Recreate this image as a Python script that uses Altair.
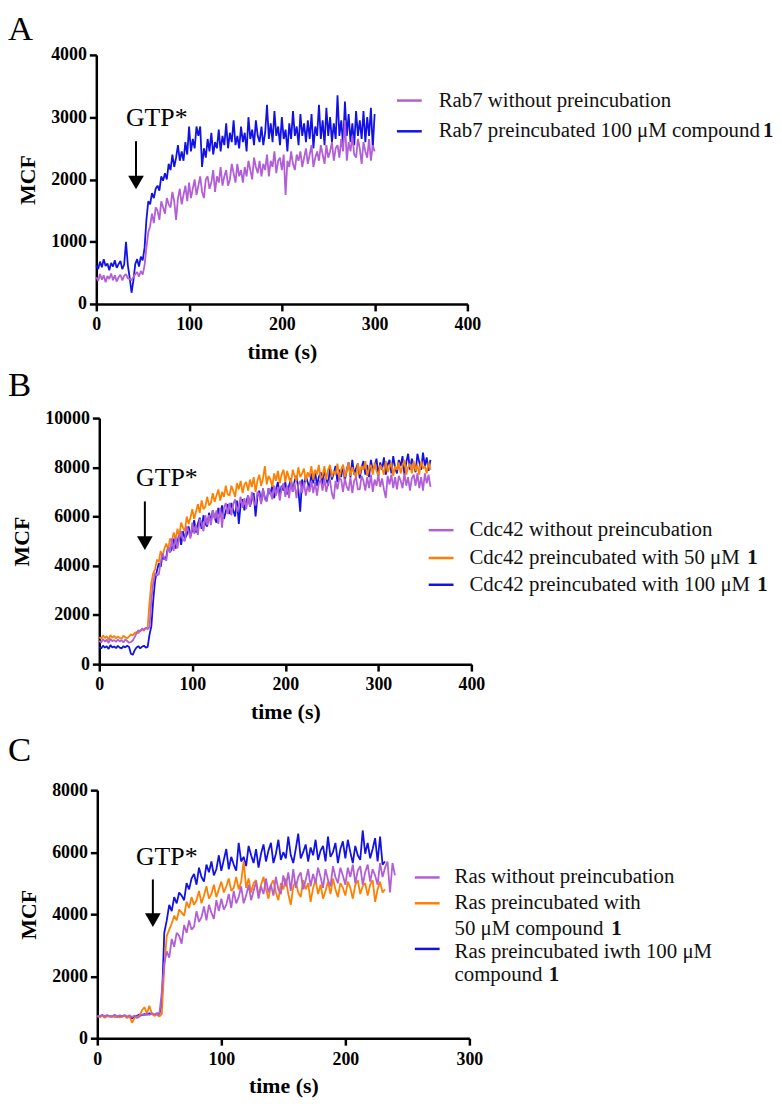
import altair as alt
import pandas as pd

SERIF = "Liberation Serif"
PURPLE = "#b25ed6"
ORANGE = "#ff8000"
BLUE = "#1212e6"

# ---------------- Panel A: Rab7 (every 2 s, 0-300 s) ----------------
A_time = list(range(0, 301, 2))
A_rab7_none = [
    430, 370, 480, 390, 460, 350, 450, 400, 490, 380,
    460, 360, 430, 470, 380, 450, 480, 410, 400, 380,
    430, 480, 510, 440, 530, 470, 620, 900, 1150, 1250,
    1450, 1300, 1550, 1500, 1350, 1650, 1550, 1450, 1700, 1600,
    1550, 1800, 1650, 1350, 1700, 1850, 1600, 1750, 1900, 1650,
    1950, 1700, 1850, 2000, 1750, 1900, 2050, 1800, 1700, 2000,
    2050, 1850, 1950, 2150, 1800, 2050, 1950, 2200, 1900, 2050,
    2150, 1900, 2000, 2250, 2100, 1950, 2250, 2050, 2150, 1950,
    2200, 2050, 2300, 2150, 2000, 2350, 2200, 2100, 2300, 2050,
    2250, 2150, 2400, 2050, 2300, 2200, 2450, 2100, 2300, 2350,
    2150, 2400, 1750, 2300, 2200, 2450, 2250, 2150, 2400, 2300,
    2450, 2200, 2350, 2500, 2250, 2400, 2550, 2200, 2350, 2450,
    2300, 2550, 2400, 2250, 2550, 2350, 2450, 2600, 2300, 2500,
    2550, 2350, 2650, 2450, 2950, 2300, 2600, 2450, 2700, 2400,
    2350, 2650, 2500, 2250, 2600, 2450, 2350, 2650, 2300, 2550,
    2450,
]
A_rab7_100 = [
    620, 560, 680, 590, 720, 610, 650, 540, 660, 600,
    700, 580, 640, 690, 560, 630, 1000, 620, 420, 180,
    380, 640, 720, 600, 760, 700, 900, 1350, 1650, 1600,
    1780, 1700, 1850, 1900, 1820, 2050, 1980, 2100, 2000, 2250,
    2150, 2400, 2200, 2350, 2550, 2300, 2450, 2300, 2600, 2400,
    2850, 2450, 2650, 2500, 2850, 2700, 2850, 2200, 2500, 2350,
    2650, 2450, 2750, 2400, 2600, 2500, 2800, 2450, 2700, 2550,
    2900, 2500, 2750, 2600, 2950, 2550, 2700, 2500, 2850, 2600,
    2750, 2450, 3000, 2650, 2800, 2550, 2950, 2700, 2600, 2850,
    2550, 2750, 3200, 2650, 2900, 2600, 3100, 2700, 2850, 2550,
    3000, 2650, 2800, 2450, 2900, 2650, 3100, 2700, 2850, 2550,
    3050, 2700, 2900, 2600, 2950, 2650, 3050, 2500, 2850, 2700,
    3200, 2650, 2950, 2550, 3150, 2700, 3000, 2600, 2900, 2650,
    3350, 2700, 2950, 2550, 3250, 2700, 3050, 2600, 2900, 2550,
    3100, 2700, 2950, 2650, 3100, 2600, 3000, 2700, 3150, 2500,
    3050,
]

# ---------------- Panel B: Cdc42 (every 2 s, 0-356 s) ----------------
B_time = list(range(0, 357, 2))
B_cdc42_none = [
    950, 880, 1020, 920, 990, 860, 1030, 930, 980, 900,
    1000, 920, 970, 880, 1010, 940, 870, 900, 960, 1100,
    1250, 1380, 1320, 1450, 1400, 1480, 1420, 1500, 2600, 3300,
    3700, 3600, 3650, 4150, 4500, 4300, 4200, 4750, 4550, 5100,
    4600, 5150, 4700, 5200, 5400, 5050, 5000, 5600, 5400, 5100,
    5750, 5300, 5650, 5250, 5900, 5750, 5400, 6050, 5650, 6050,
    5650, 6250, 5900, 6250, 5700, 6350, 5550, 6350, 6550, 6100,
    6550, 6050, 6500, 6700, 6200, 6450, 6800, 6350, 6750, 6300,
    6850, 6400, 7000, 6600, 6450, 7000, 6900, 6500, 7150, 6700,
    6600, 7150, 6950, 6700, 7250, 6850, 7200, 6650, 7150, 7350,
    6800, 7250, 6750, 7400, 7000, 7350, 6750, 7300, 7450, 6950,
    7400, 6850, 7250, 7000, 7450, 6950, 7400, 6850, 7350, 7500,
    7050, 7550, 7000, 7350, 7500, 6950, 6700, 7450, 7100, 7550,
    7500, 7000, 7550, 7200, 7050, 7600, 6950, 7450, 7600, 7100,
    7100, 7650, 7450, 7050, 7600, 7150, 7700, 7000, 7500, 7250,
    7700, 7200, 7550, 7100, 6750, 7650, 7300, 7700, 7150, 7600,
    7100, 7650, 7450, 7150, 7750, 7250, 7600, 7050, 7550, 7700,
    7250, 7750, 7150, 7600, 7050, 7750, 7350, 7700, 7200,
]
B_cdc42_50 = [
    1100, 1030, 1170, 1060, 1140, 990, 1180, 1070, 1150, 1040,
    1130, 1060, 1020, 1160, 1090, 1050, 1130, 1210, 1170, 1260,
    1300, 1260, 1370, 1400, 1360, 1460, 1500, 2500, 3300, 3700,
    3850, 4250, 4150, 4600, 4400, 4700, 4900, 4650, 5100, 5000,
    5350, 5050, 5500, 5200, 5750, 5550, 5400, 6000, 5700, 5950,
    6300, 5900, 6200, 6500, 6150, 6650, 6300, 6400, 6800, 6450,
    6550, 6950, 6600, 6850, 7100, 6650, 7000, 6800, 7250, 6900,
    6850, 7250, 7050, 6800, 7350, 7100, 7450, 6950, 7300, 7400,
    7050, 7500, 7200, 7600, 7000, 7450, 7700, 7250, 7550, 8050,
    7300, 7650, 7500, 7200, 7750, 7450, 7850, 7350, 7700, 7900,
    7400, 7850, 7550, 7350, 7900, 7650, 7450, 8000, 7600, 7750,
    7950, 7450, 7800, 7600, 8050, 7500, 7900, 7700, 8100, 7550,
    7650, 8050, 7500, 7900, 8100, 7600, 7850, 7700, 8150, 7550,
    7900, 8100, 7600, 7850, 8200, 7650, 8000, 7750, 7600, 8150,
    7700, 8050, 7900, 8250, 7650, 7950, 8100, 7700, 8200, 7850,
    7650, 8100, 7950, 7700, 8250, 7800, 8000, 8200, 7650, 8050,
    7900, 8200, 7750, 8050, 8300, 7700, 8000, 8150, 7750, 8250,
    7850, 8100, 7700, 8250, 7950, 8050, 7750, 8200, 7900,
]
B_cdc42_100 = [
    700, 640, 750, 670, 730, 620, 770, 680, 720, 650,
    740, 670, 640, 730, 680, 750, 700, 420, 380, 560,
    680, 730, 640, 710, 750, 670, 700, 1200, 1550, 2600,
    3400, 3800, 4100, 3950, 4450, 4250, 4350, 4800, 4550, 4700,
    5100, 4700, 4950, 5300, 4850, 5400, 5100, 5250, 5600, 5200,
    5450, 5850, 5350, 5700, 5950, 5500, 6050, 5700, 5600, 6150,
    5800, 6250, 5950, 5750, 6350, 6000, 6450, 5900, 6200, 6500,
    6100, 6550, 6250, 6000, 6650, 5700, 6500, 6700, 6250, 6600,
    6850, 6400, 6700, 6950, 6000, 6800, 7050, 6550, 7100, 6750,
    6650, 7150, 6900, 7300, 6750, 7100, 7400, 6850, 7250, 7050,
    7400, 6900, 7250, 7550, 7000, 7450, 7650, 7100, 6200, 7500,
    7200, 7650, 7400, 7100, 7750, 7350, 7850, 7250, 7600, 7800,
    7300, 7900, 7550, 7250, 8000, 7500, 7750, 8050, 7400, 7900,
    7600, 8100, 7450, 7900, 8200, 7600, 8300, 7700, 7950, 8150,
    7550, 8000, 8250, 7700, 8100, 7600, 8300, 7850, 8050, 8350,
    7650, 8200, 7900, 8400, 7700, 8100, 8300, 7750, 8450, 8000,
    7750, 8300, 8050, 8450, 7700, 8200, 8550, 7900, 8350, 8100,
    7800, 8550, 8200, 7900, 8600, 8050, 8400, 7850, 8300,
]

# ---------------- Panel C: Ras (every 2 s) ----------------
C_time_short = list(range(0, 233, 2))
C_time_long = list(range(0, 241, 2))
C_ras_none = [
    730, 700, 760, 690, 750, 710, 700, 760, 690, 740,
    710, 750, 690, 740, 680, 730, 650, 700, 770, 740,
    790, 750, 810, 760, 800, 750, 1500, 2400, 2800, 2600,
    3200, 2950, 3400, 3300, 3050, 3650, 3400, 3800, 3500, 3600,
    4100, 3750, 3900, 4250, 3800, 4300, 4050, 3850, 4450, 4100,
    4500, 4150, 4300, 4650, 4200, 4750, 4350, 4550, 4900, 4350,
    4600, 4950, 4450, 4750, 5050, 4500, 4900, 4650, 5150, 4700,
    4950, 4600, 5200, 4800, 4650, 5250, 4900, 5350, 4750, 5450,
    4850, 5200, 5350, 4800, 5100, 5450, 4900, 5300, 5000, 5500,
    5200, 4850, 5450, 5100, 4900, 5550, 5200, 5000, 5500, 5250,
    4950, 5500, 5200, 5600, 5000, 5400, 5550, 4950, 5350, 5600,
    5050, 5450, 5250, 4950, 5650, 5200, 5500, 5700, 4700, 5650,
    5250,
]
C_ras_50 = [
    700, 680, 720, 660, 710, 690, 720, 680, 700, 670,
    690, 720, 650, 700, 500, 650, 700, 720, 900, 1000,
    800, 1050, 780, 720, 760, 700, 780, 2300, 3300, 3500,
    3700, 3950, 3800, 4150, 4050, 3950, 4400, 4200, 4550, 4300,
    4450, 4750, 4350, 4600, 4900, 4500, 4650, 4950, 4550, 4800,
    5050, 4700, 4900, 5150, 4750, 4850, 5200, 4800, 5050, 5700,
    4850, 5150, 4700, 5000, 5100, 4600, 4950, 5200, 4800, 4500,
    4950, 5100, 4700, 4450, 5000, 4800, 5150, 4650, 4300, 4900,
    5050, 4700, 4550, 5100, 4800, 5000, 4400, 4850, 5100, 4650,
    4950, 4500, 4750, 5050, 4650, 5150, 4800, 4550, 5000, 4850,
    4600, 5050, 4850, 4500, 4950, 5100, 4650, 4900, 5000, 4600,
    4950, 5100, 4400, 4800, 5050, 4700, 4800,
]
C_ras_100 = [
    720, 700, 740, 690, 730, 710, 700, 740, 690, 720,
    710, 730, 680, 720, 640, 700, 720, 760, 740, 780,
    760, 800, 780, 750, 800, 780, 1100, 3400, 3800, 4300,
    4100, 4550, 4350, 4700, 4600, 4450, 5000, 4800, 5150, 5300,
    4950, 5500, 5200, 5050, 5600, 5350, 5700, 5250, 5450, 5900,
    5400, 5750, 6100, 5450, 5850, 5600, 5400, 6300, 5700, 5850,
    5550, 6200, 5900, 5650, 6100, 5500, 5950, 6250, 5700, 6050,
    6300, 5650, 5950, 6400, 5750, 6000, 5800, 6500, 5900, 5650,
    6100, 6600, 5800, 6000, 6250, 5700, 6150, 5900, 6400, 5750,
    6050, 6200, 5700, 6500, 5850, 6000, 6300, 5650, 6100, 6350,
    5800, 6400, 6000, 5650, 6200, 5900, 5750, 6700, 5950, 6300,
    5800, 6100, 6450, 5700, 6500, 5600, 5700,
]

# ---------------- helpers ----------------
ONE = pd.DataFrame({"d": [0]})


def make_xy(x_domain, x_ticks, x_range, x_offset, y_domain, y_ticks, y_range, y_offset):
    common = dict(labelFont=SERIF, labelFontSize=18, labelFontWeight="bold",
                  labelColor="black", titleFont=SERIF, titleFontSize=22,
                  titleFontWeight="bold", titleColor="black", format="d",
                  labelFlush=False, labelOverlap=False, grid=False)
    X = alt.X("t:Q",
              scale=alt.Scale(domain=x_domain, range=x_range, nice=False, zero=False),
              axis=alt.Axis(orient="bottom", values=x_ticks, title="time (s)",
                            offset=x_offset, labelPadding=5, titlePadding=8, **common))
    Y = alt.Y("v:Q",
              scale=alt.Scale(domain=y_domain, range=y_range, nice=False, zero=False),
              axis=alt.Axis(orient="left", values=y_ticks, title="MCF",
                            offset=y_offset, labelPadding=3, titlePadding=11, **common))
    return X, Y


def series_line(t, v, color, X, Y):
    return alt.Chart(pd.DataFrame({"t": t, "v": v})).mark_line(
        color=color, strokeWidth=1.8, strokeJoin="bevel").encode(x=X, y=Y)


def gtp_label(tx, vy, X, Y):
    return alt.Chart(pd.DataFrame({"t": [tx], "v": [vy]})).mark_text(
        text="GTP*", align="left", baseline="alphabetic", font=SERIF,
        fontSize=26, color="black").encode(x=X, y=Y)


def arrow(tx, vtop, vhead, X, Y):
    shaft = alt.Chart(pd.DataFrame({"t": [tx], "v": [vtop], "v2": [vhead]})).mark_rule(
        color="black", strokeWidth=2).encode(x=X, y=Y, y2="v2:Q")
    head = alt.Chart(pd.DataFrame({"t": [tx], "v": [vhead]})).mark_point(
        shape="triangle-down", filled=True, size=250, color="black",
        opacity=1, strokeWidth=0).encode(x=X, y=Y)
    return [shaft, head]


def ptext(s, x, y, size=21, weight="normal", baseline="middle", color="#111111"):
    return alt.Chart(ONE).mark_text(
        text=s, align="left", baseline=baseline, font=SERIF, fontSize=size,
        fontWeight=weight, color=color).encode(x=alt.value(x), y=alt.value(y))


def pline(x1, x2, y, color):
    return alt.Chart(ONE).mark_rule(color=color, strokeWidth=2.5).encode(
        x=alt.value(x1), x2=alt.value(x2), y=alt.value(y))


# ---------------- Panel A ----------------
XA, YA = make_xy([0, 400], [0, 100, 200, 300, 400], [-1, 373], -740,
                 [0, 4000], [0, 1000, 2000, 3000, 4000], [251, 0], 1)
panel_a = alt.layer(
    series_line(A_time, A_rab7_100, BLUE, XA, YA),
    series_line(A_time, A_rab7_none, PURPLE, XA, YA),
    gtp_label(32, 2853, XA, YA),
    *arrow(42.8, 2614, 1952, XA, YA),
    ptext("A", -90, -43, size=35, baseline="top", color="black"),
    pline(302, 327, 46, PURPLE),
    pline(302, 327, 77, BLUE),
    ptext("Rab7 without preincubation", 344, 46),
    ptext("Rab7 preincubated 100 \u03bcM compound ", 344, 77),
    ptext("1", 671, 77, weight="bold"),
)

# ---------------- Panel B ----------------
XB, YB = make_xy([0, 400], [0, 100, 200, 300, 400], [2, 377], -377,
                 [0, 10000], [0, 2000, 4000, 6000, 8000, 10000], [614, 366], -2)
panel_b = alt.layer(
    series_line(B_time, B_cdc42_100, BLUE, XB, YB),
    series_line(B_time, B_cdc42_50, ORANGE, XB, YB),
    series_line(B_time, B_cdc42_none, PURPLE, XB, YB),
    gtp_label(39.5, 7258, XB, YB),
    *arrow(49, 6613, 4919, XB, YB),
    ptext("B", -90, 316, size=35, baseline="top", color="black"),
    pline(334, 359, 479, PURPLE),
    pline(334, 359, 507, ORANGE),
    pline(334, 359, 534, BLUE),
    ptext("Cdc42 without preincubation", 375, 479),
    ptext("Cdc42 preincubated with 50 \u03bcM ", 375, 507),
    ptext("1", 655, 507, weight="bold"),
    ptext("Cdc42 preincubated with 100 \u03bcM ", 375, 534),
    ptext("1", 665, 534, weight="bold"),
)

# ---------------- Panel C ----------------
XC, YC = make_xy([0, 300], [0, 100, 200, 300], [0, 375], 0,
                 [0, 8000], [0, 2000, 4000, 6000, 8000], [991, 741], 0)
panel_c = alt.layer(
    series_line(C_time_short, C_ras_100, BLUE, XC, YC),
    series_line(C_time_short, C_ras_50, ORANGE, XC, YC),
    series_line(C_time_long, C_ras_none, PURPLE, XC, YC),
    gtp_label(31.2, 5600, XC, YC),
    *arrow(44.8, 5120, 3808, XC, YC),
    ptext("C", -90, 684, size=35, baseline="top", color="black"),
    pline(320, 345, 829, PURPLE),
    pline(320, 345, 855, ORANGE),
    pline(320, 345, 901, BLUE),
    ptext("Ras without preincubation", 360, 829),
    ptext("Ras preincubated with", 360, 855),
    ptext("50 \u03bcM compound ", 360, 881),
    ptext("1", 518, 881, weight="bold"),
    ptext("Ras preincubated iwth 100 \u03bcM", 360, 904),
    ptext("compound ", 360, 927),
    ptext("1", 455, 927, weight="bold"),
)

chart = alt.layer(panel_a, panel_b, panel_c).resolve_scale(
    x="independent", y="independent"
).properties(
    width=375, height=991, padding=0
).configure_view(
    stroke=None
).configure_axis(
    grid=False,
    domainColor="black", domainWidth=2.5,
    tickColor="black", tickWidth=2.5, tickSize=7,
    labelFont=SERIF, labelFontSize=18, labelFontWeight="bold", labelColor="black",
    titleFont=SERIF, titleFontSize=22, titleFontWeight="bold", titleColor="black",
    labelFlush=False, labelOverlap=False,
)

chart.save("out.html", embed_options={"renderer": "svg", "actions": False})
